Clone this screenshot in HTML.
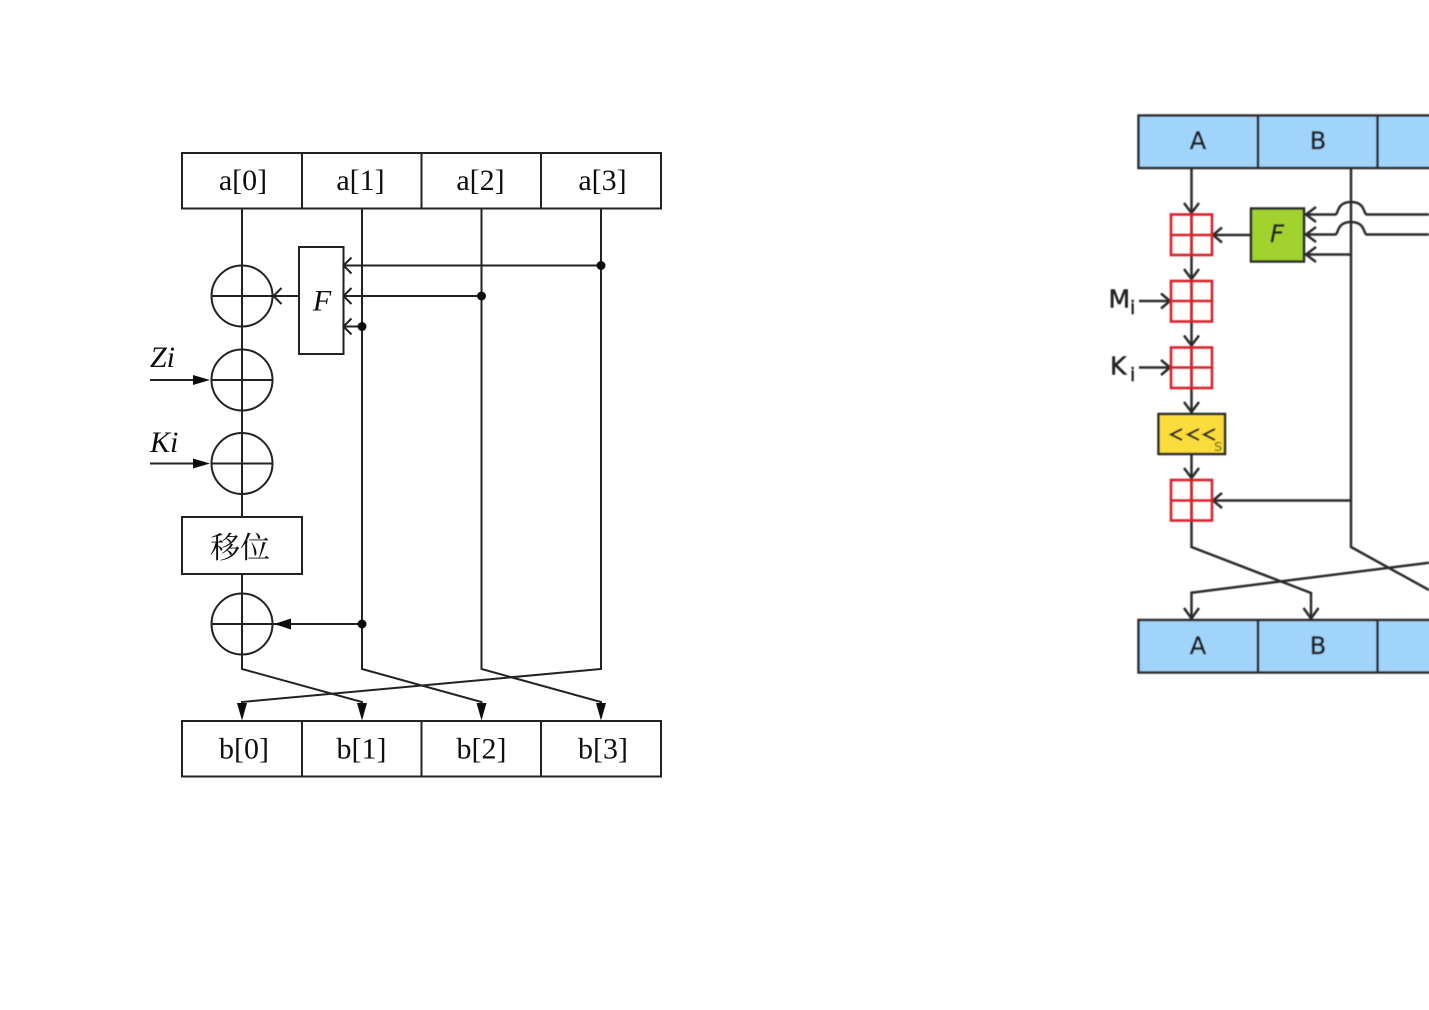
<!DOCTYPE html>
<html>
<head>
<meta charset="utf-8">
<style>
html,body{margin:0;padding:0;background:#fff;width:1429px;height:1010px;overflow:hidden}
svg{display:block}
.s{font-family:"Liberation Serif","Noto Serif CJK SC",serif;fill:#111}
.d{font-family:"DejaVu Sans","Liberation Sans",sans-serif;fill:#222;stroke:#222;stroke-width:.5}
</style>
</head>
<body>
<svg width="1429" height="1010" viewBox="0 0 1429 1010" xmlns="http://www.w3.org/2000/svg">
<defs>
<filter id="b1" x="-5%" y="-5%" width="110%" height="110%"><feGaussianBlur stdDeviation="0.35"/></filter>
<filter id="b2" x="-5%" y="-5%" width="110%" height="110%"><feGaussianBlur stdDeviation="0.55"/></filter>
</defs>
<rect width="1429" height="1010" fill="#fff"/>
<!-- Left diagram -->
<g filter="url(#b1)">
<g fill="none" stroke="#222" stroke-width="2">
  <rect x="182" y="153" width="479" height="55.500"/>
  <path d="M302 153V208.500M421.500 153V208.500M541 153V208.500"/>
  <rect x="182" y="721" width="479" height="55.500"/>
  <path d="M302 721V776.500M421.500 721V776.500M541 721V776.500"/>
  <path d="M242 208.500V517M242 574V669L362 702V706"/>
  <path d="M362 208.500V669L481.500 702V706"/>
  <path d="M481.500 208.500V669L601 702V706"/>
  <path d="M601 208.500V669L242 702V706"/>
  <circle cx="242" cy="296" r="30.500"/>
  <circle cx="242" cy="380" r="30.500"/>
  <circle cx="242" cy="463.500" r="30.500"/>
  <circle cx="242" cy="624" r="30.500"/>
  <path d="M211.500 296H299M211.500 380H272.500M211.500 463.500H272.500M211.500 624H362"/>
  <path d="M150 380H195M150 463.500H195"/>
  <rect x="182" y="517" width="120" height="57" fill="#fff"/>
  <rect x="299" y="247" width="44.500" height="107" fill="#fff"/>
  <path d="M344 265.500H601M344 296H481.500M344 326.500H362"/>
  <path d="M281.500 288L273.500 296L281.500 304M351.500 257.500L343.500 265.500L351.500 273.500M351.500 288L343.500 296L351.500 304M351.500 318.500L343.500 326.500L351.500 334.500"/>
</g>
<g fill="#111">
  <circle cx="601" cy="265.500" r="4.500"/>
  <circle cx="481.500" cy="296" r="4.500"/>
  <circle cx="362" cy="326.500" r="4.500"/>
  <circle cx="362" cy="624" r="4.500"/>
  <path d="M210 380L193 375V385Z"/>
  <path d="M210 463.500L193 458.500V468.500Z"/>
  <path d="M274 624L291 618.500V629.500Z"/>
  <path d="M242 720.500L237 703H247Z"/>
  <path d="M362 720.500L357 703H367Z"/>
  <path d="M481.500 720.500L476.500 703H486.500Z"/>
  <path d="M601 720.500L596 703H606Z"/>
</g>
<g class="s" font-size="30" text-anchor="middle">
  <text x="243" y="190">a[0]</text>
  <text x="360.500" y="190">a[1]</text>
  <text x="480.500" y="190">a[2]</text>
  <text x="602.500" y="190">a[3]</text>
  <text x="244" y="758.500">b[0]</text>
  <text x="361.500" y="758.500">b[1]</text>
  <text x="481.500" y="758.500">b[2]</text>
  <text x="603" y="758.500">b[3]</text>
  <text x="322" y="310.500" font-style="italic">F</text>
  <text x="240" y="558">移位</text>
</g>
<text class="s" x="150" y="367" font-size="30" font-style="italic">Zi</text>
<text class="s" x="150" y="452" font-size="30" font-style="italic">Ki</text>
</g>
<!-- Right diagram -->
<g filter="url(#b2)">
<g fill="none" stroke="#2b2b2b" stroke-width="2.500">
  <rect x="1138.500" y="115.500" width="320" height="52.500" fill="#a1d4fb"/>
  <path d="M1258 115.500V168M1377.500 115.500V168"/>
  <rect x="1138.500" y="620" width="320" height="52.500" fill="#a1d4fb"/>
  <path d="M1258 620V672.500M1377.500 620V672.500"/>
  <path d="M1191.500 168V547L1311 593V619"/>
  <path d="M1351 168V547L1429 590"/>
  <path d="M1429 562.700L1191.500 592.700V619"/>
  <path d="M1351 500.500H1213"/>
  <path d="M1351 254.500H1306"/>
  <path d="M1429 214.500H1367C1363 214.500 1366 202 1351 202C1336 202 1339 214.500 1335 214.500H1306"/>
  <path d="M1429 234.500H1367C1363 234.500 1366 222 1351 222C1336 222 1339 234.500 1335 234.500H1306"/>
  <path d="M1251 235H1213"/>
  <path d="M1139 301H1170M1139 367.500H1170"/>
  <path d="M1184 203L1191.500 213L1199 203M1184 269L1191.500 279L1199 269M1184 335.500L1191.500 345.500L1199 335.500M1184 402L1191.500 412L1199 402M1184 468L1191.500 478L1199 468"/>
  <path d="M1184 608L1191.500 618.500L1199 608M1303.500 608L1311 618.500L1318.500 608"/>
  <path d="M1222 227.500L1213 235L1222 242.500M1222 493L1213 500.500L1222 508"/>
  <path d="M1316 207L1306 214.500L1316 222M1316 227L1306 234.500L1316 242M1316 247L1306 254.500L1316 262"/>
  <path d="M1161 293.500L1170 301L1161 308.500M1161 360L1170 367.500L1161 375"/>
  <rect x="1251" y="208.500" width="53" height="53" fill="#a2d22f"/>
  <rect x="1158.500" y="414" width="66.500" height="40" fill="#fbdc3c"/>
  <path d="M1182 429L1171 434.500L1182 440M1199 429L1188 434.500L1199 440M1215 429L1204 434.500L1215 440" stroke-width="2.200"/>
</g>
<g fill="none" stroke="#d9232b" stroke-width="2.600">
  <rect x="1171" y="214.500" width="41" height="40.500"/>
  <path d="M1191.500 214.500V255M1171 235H1212"/>
  <rect x="1171" y="281" width="41" height="40.500"/>
  <path d="M1191.500 281V321.500M1171 301H1212"/>
  <rect x="1171" y="347.500" width="41" height="40.500"/>
  <path d="M1191.500 347.500V388M1171 367.500H1212"/>
  <rect x="1171" y="480" width="41" height="40.500"/>
  <path d="M1191.500 480V520.500M1171 500.500H1212"/>
</g>
<g class="d" font-size="24" text-anchor="middle">
  <text x="1198" y="149">A</text>
  <text x="1318" y="149">B</text>
  <text x="1198" y="654">A</text>
  <text x="1318" y="654">B</text>
  <text x="1277" y="242" font-style="italic" font-size="24">F</text>
</g>
<g class="d">
  <text x="1108.500" y="307.500" font-size="25">M</text>
  <text x="1130" y="314" font-size="19">i</text>
  <text x="1110" y="374.500" font-size="25">K</text>
  <text x="1130" y="381" font-size="19">i</text>
  <text x="1214" y="451" font-size="16" style="fill:#6b6a20;stroke:none">s</text>
</g>
</g>
</svg>
</body>
</html>
